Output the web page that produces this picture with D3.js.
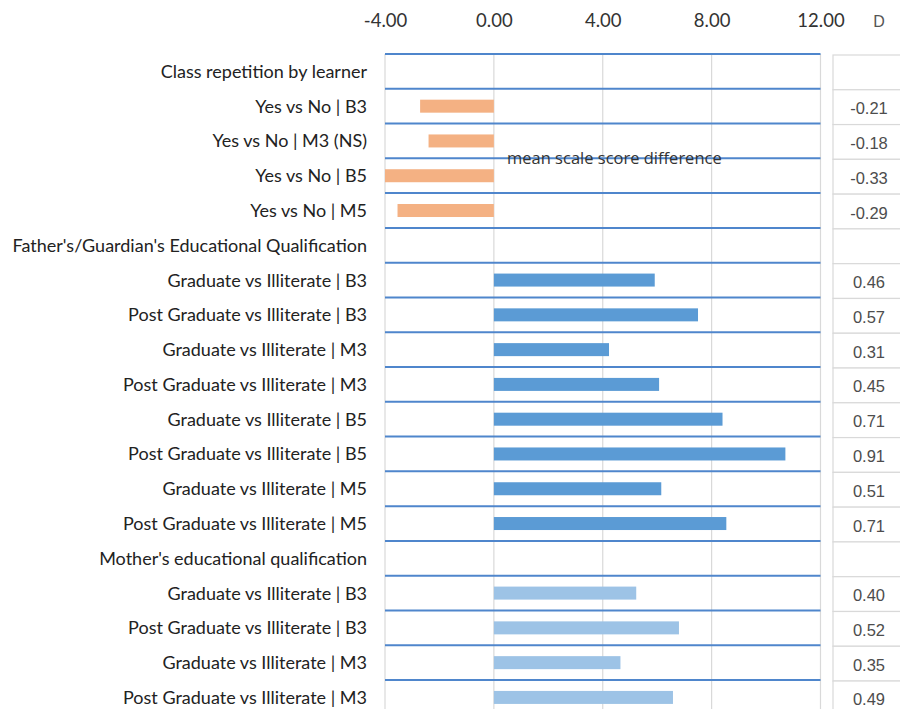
<!DOCTYPE html>
<html><head><meta charset="utf-8">
<script src="https://cdn.jsdelivr.net/npm/d3@7/dist/d3.min.js"></script>
<style>body{margin:0;background:#fff}svg{display:block}</style>
</head><body>
<svg id="c" width="900" height="709"></svg>
<script>
const rowLabels = [
  "Class repetition by learner",
  "Yes vs No | B3",
  "Yes vs No | M3 (NS)",
  "Yes vs No | B5",
  "Yes vs No | M5",
  "Father's/Guardian's Educational Qualification",
  "Graduate vs Illiterate | B3",
  "Post Graduate vs Illiterate | B3",
  "Graduate vs Illiterate | M3",
  "Post Graduate vs Illiterate | M3",
  "Graduate vs Illiterate | B5",
  "Post Graduate vs Illiterate | B5",
  "Graduate vs Illiterate | M5",
  "Post Graduate vs Illiterate | M5",
  "Mother's educational qualification",
  "Graduate vs Illiterate | B3",
  "Post Graduate vs Illiterate | B3",
  "Graduate vs Illiterate | M3",
  "Post Graduate vs Illiterate | M3"
];
const meanDiff = [null, -2.71, -2.40, -4.0, -3.54, null, 5.91, 7.50, 4.23, 6.07, 8.40, 10.71, 6.15, 8.54, null, 5.23, 6.80, 4.65, 6.58];
const effectD = [null, -0.21, -0.18, -0.33, -0.29, null, 0.46, 0.57, 0.31, 0.45, 0.71, 0.91, 0.51, 0.71, null, 0.40, 0.52, 0.35, 0.49];
const group = ["h","rep","rep","rep","rep","h","fat","fat","fat","fat","fat","fat","fat","fat","h","mot","mot","mot","mot"];
const xTicks = [-4, 0, 4, 8, 12];
const annotation = "mean scale score difference";
const colors = {rep:"#f4b183", fat:"#5b9bd5", mot:"#9dc3e6"};

const fmt2 = v => v.toFixed(2);
const svg = d3.select("#c");
const x = d3.scaleLinear().domain([-4, 12]).range([385, 820.5]);
const rowH = 34.78, plotTop = 54;
const y = d3.scaleBand().domain(d3.range(rowLabels.length)).range([plotTop, plotTop + rowH*rowLabels.length]).paddingInner(0).paddingOuter(0);

// vertical gridlines
svg.append("g").selectAll("line").data(xTicks).join("line")
  .attr("x1", d=>x(d)).attr("x2", d=>x(d)).attr("y1", plotTop).attr("y2", 709)
  .attr("stroke", "#d9d9d9").attr("stroke-width", 1.2);

// top axis
const ax = svg.append("g").attr("transform","translate(0,27)")
  .call(d3.axisTop(x).tickValues(xTicks).tickFormat(fmt2).tickSize(0).tickPadding(0));
ax.select(".domain").remove();
ax.selectAll("text").attr("font-family","Lato, 'Open Sans', sans-serif").attr("font-size",18.5).attr("fill","#333").attr("dy",0);
svg.append("text").attr("x",879).attr("y",27).attr("text-anchor","middle")
  .attr("font-family","'Liberation Sans', Arial, sans-serif").attr("font-size",16).attr("fill","#555").text("D");

// blue horizontal row lines
const bounds = d3.range(rowLabels.length+1);
svg.append("g").selectAll("line").data(bounds).join("line")
  .attr("x1", x(-4)).attr("x2", x(12))
  .attr("y1", i=>plotTop + i*rowH).attr("y2", i=>plotTop + i*rowH)
  .attr("stroke", "#4f86cc").attr("stroke-width", 2);

// bars
const barH = 13;
svg.append("g").selectAll("rect").data(meanDiff.map((v,i)=>({v,i})).filter(d=>d.v!==null)).join("rect")
  .attr("x", d=>x(Math.min(0,d.v))).attr("width", d=>Math.abs(x(d.v)-x(0)))
  .attr("y", d=>y(d.i) + y.bandwidth()/2 - barH/2).attr("height", barH)
  .attr("fill", d=>colors[group[d.i]]);

// left labels
svg.append("g").selectAll("text").data(rowLabels).join("text")
  .attr("x", 367).attr("y", (d,i)=>y(i)+y.bandwidth()/2 + 6.5)
  .attr("text-anchor","end").attr("font-family","Lato, 'Open Sans', sans-serif")
  .attr("font-size",18).attr("fill","#222").text(d=>d);

// D column cells
const dcol = svg.append("g");
dcol.selectAll("rect").data(effectD).join("rect")
  .attr("x", 833).attr("y",(d,i)=>y(i)+1).attr("width", 80).attr("height", rowH)
  .attr("fill","#fff").attr("stroke","#d9d9d9").attr("stroke-width",1.2);
dcol.selectAll("text").data(effectD).join("text")
  .attr("x", 869).attr("y",(d,i)=>y(i)+y.bandwidth()/2 + 8)
  .attr("text-anchor","middle").attr("font-family","'Liberation Sans', Arial, sans-serif")
  .attr("font-size",16.5).attr("fill","#4d4d4d")
  .text(d=> d===null ? "" : fmt2(d));

// annotation
svg.append("text").attr("x",507).attr("y",163.5).attr("font-family","'Open Sans', sans-serif")
  .attr("font-size",16.5).attr("fill","#333").text(annotation);
</script>
</body></html>
